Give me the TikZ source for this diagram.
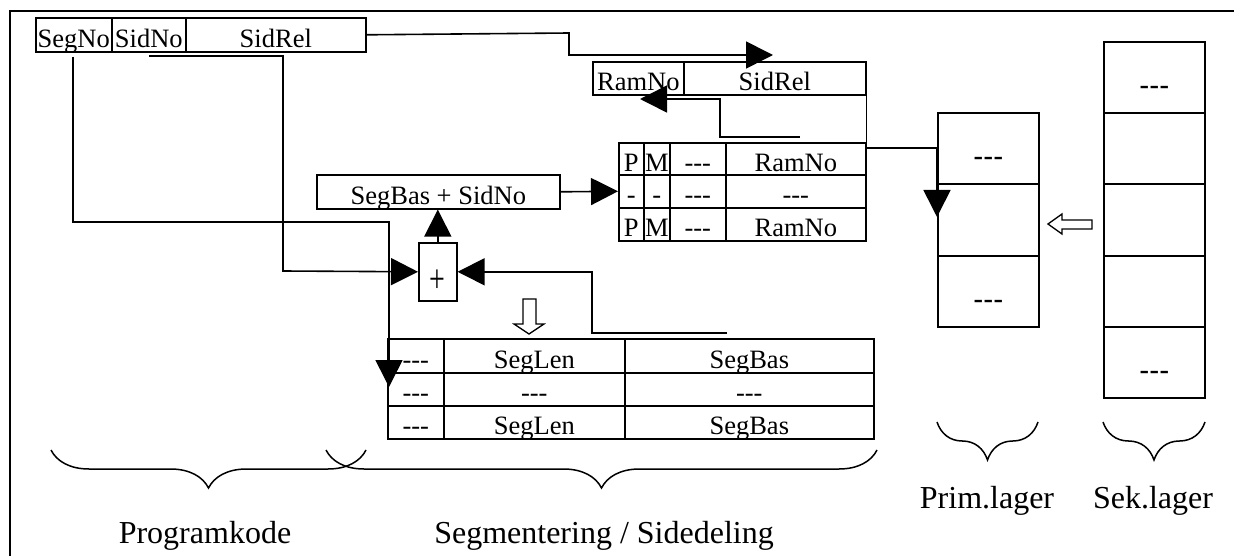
\documentclass[tikz,border=0pt]{standalone}
\usepackage{fontspec}
\usepackage{graphicx}
\setmainfont{Liberation Serif}
\setsansfont{Liberation Sans}
\usetikzlibrary{arrows.meta,decorations.pathreplacing,calc}
\begin{document}
\begin{tikzpicture}[x=1pt,y=-1pt,line width=1.6pt,
  box/.style={draw,rectangle,inner sep=0pt,anchor=north west,
    font=\fontsize{26.5}{26.5}\selectfont,text height=25pt,text depth=0pt},
  mem/.style={draw,rectangle,inner sep=0pt,anchor=north west,
    minimum width=101pt,font=\sffamily\fontsize{30}{30}\selectfont,
    text height=37pt,text depth=0pt},
  conn/.style={line width=1.6pt},
  arr/.style={conn,-{Triangle[length=27pt,width=27pt]}},
  hollow/.style={line width=1.3pt,fill=white},
  lbl/.style={anchor=base,font=\fontsize{32}{32}\selectfont},
  brc/.style={line width=1.5pt,decorate,decoration={brace,mirror,amplitude=38pt,aspect=0.5}}]
\useasboundingbox (0,0) rectangle (1234,556);
% frame
\draw[line width=2pt] (10,556) -- (10,11) -- (1234,11);

% program address
\node[box,minimum width=76pt,minimum height=34pt] (segno) at (35,17) {SegNo};
\node[box,minimum width=74pt,minimum height=34pt] (sidno) at (111,17) {SidNo};
\node[box,minimum width=180pt,minimum height=34pt] (sidrel) at (185,17) {SidRel};

% physical address
\node[box,minimum width=91pt,minimum height=33pt] (pramno) at (592,61) {RamNo};
\node[box,minimum width=182pt,minimum height=33pt] (psidrel) at (683,61) {SidRel};

% page table
\node[box,minimum width=25pt,minimum height=32pt] (pa1) at (618,142) {P};
\node[box,minimum width=26pt,minimum height=32pt] (pb1) at (643,142) {M};
\node[box,minimum width=56pt,minimum height=32pt] (pc1) at (669,142) {-{}-{}-};
\node[box,minimum width=140pt,minimum height=32pt] (pd1) at (725,142) {RamNo};
\node[box,minimum width=25pt,minimum height=33pt] (pa2) at (618,174) {-};
\node[box,minimum width=26pt,minimum height=33pt] (pb2) at (643,174) {-};
\node[box,minimum width=56pt,minimum height=33pt] (pc2) at (669,174) {-{}-{}-};
\node[box,minimum width=140pt,minimum height=33pt] (pd2) at (725,174) {-{}-{}-};
\node[box,minimum width=25pt,minimum height=33pt] (pa3) at (618,207) {P};
\node[box,minimum width=26pt,minimum height=33pt] (pb3) at (643,207) {M};
\node[box,minimum width=56pt,minimum height=33pt] (pc3) at (669,207) {-{}-{}-};
\node[box,minimum width=140pt,minimum height=33pt] (pd3) at (725,207) {RamNo};

% adder
\node[box,minimum width=243pt,minimum height=34pt] (segbas) at (316,174) {SegBas + SidNo};
\node[box,minimum width=38pt,minimum height=58pt,text height=42pt,
  font=\fontsize{40}{40}\selectfont] (plus) at (418,242) {\scalebox{0.7}[1]{+}};

% segment table
\node[box,minimum width=56pt,minimum height=34pt] (sa1) at (387,338) {-{}-{}-};
\node[box,minimum width=181pt,minimum height=34pt] (sb1) at (443,338) {SegLen};
\node[box,minimum width=249pt,minimum height=34pt] (sc1) at (624,338) {SegBas};
\node[box,minimum width=56pt,minimum height=33pt] (sa2) at (387,372) {-{}-{}-};
\node[box,minimum width=181pt,minimum height=33pt] (sb2) at (443,372) {-{}-{}-};
\node[box,minimum width=249pt,minimum height=33pt] (sc2) at (624,372) {-{}-{}-};
\node[box,minimum width=56pt,minimum height=33pt] (sa3) at (387,405) {-{}-{}-};
\node[box,minimum width=181pt,minimum height=33pt] (sb3) at (443,405) {SegLen};
\node[box,minimum width=249pt,minimum height=33pt] (sc3) at (624,405) {SegBas};

% primary memory
\node[mem,minimum height=71pt] (pm1) at (937,112) {-{}-{}-};
\node[mem,minimum height=72pt] (pm2) at (937,183) {};
\node[mem,minimum height=71pt] (pm3) at (937,255) {-{}-{}-};

% secondary memory
\node[mem,minimum height=71pt] (sm1) at (1103,41) {-{}-{}-};
\node[mem,minimum height=71pt] (sm2) at (1103,112) {};
\node[mem,minimum height=72pt] (sm3) at (1103,183) {};
\node[mem,minimum height=71pt] (sm4) at (1103,255) {};
\node[mem,minimum height=71pt] (sm5) at (1103,326) {-{}-{}-};

% free connector ends
\coordinate (c1) at (569,33);
\coordinate (c2) at (773,55);
\coordinate (b0) at (800,137);
\coordinate (b1) at (720,99);
\coordinate (b2) at (640,99);
\coordinate (r0) at (865,148);
\coordinate (r2) at (937,217);
\coordinate (sidout) at (149,56);
\coordinate (segout) at (73,57);
\coordinate (segtip) at (389,387);
\coordinate (q0) at (727,333);
\coordinate (q1) at (592,333);

% connectors
\draw[arr] (sidrel.east) -- (c1) |- (c2);
\draw[arr] (b0) -| (b1) -- (b2);
\draw[conn] (psidrel.south east) -- (pd1.north east);
\draw[arr] (r0) -| (r2);
\draw[arr] (segbas.east) -- (pa2.west);
\draw[arr] (plus.north) -- (plus.north |- segbas.south);
\draw[arr] (sidout) -| (283,271) -- (plus.west);
\draw[arr] (segout) |- (389,222) -- (segtip);
\draw[arr] (q0) -| (q1) |- (plus.east);

% hollow arrows
\draw[hollow] (523,299) -- (536,299) -- (536,324) -- (544,324) -- (529,334)
  -- (514,324) -- (523,324) -- cycle;
\draw[hollow] (1092,220) -- (1092,229) -- (1062,229) -- (1062,234) -- (1048,224)
  -- (1062,214) -- (1062,220) -- cycle;

% braces
\draw[brc] (51,450) -- (366,450);
\draw[brc] (326,450) -- (877,450);
\draw[brc] (937,422) -- (1038,422);
\draw[brc] (1103,422) -- (1205,422);

% labels
\node[lbl] (lprog) at (205,543) {Programkode};
\node[lbl] (lseg) at (604,543) {Segmentering / Sidedeling};
\node[lbl] (lprim) at (987,508) {Prim.lager};
\node[lbl] (lsek) at (1153,508) {Sek.lager};
\end{tikzpicture}
\end{document}
